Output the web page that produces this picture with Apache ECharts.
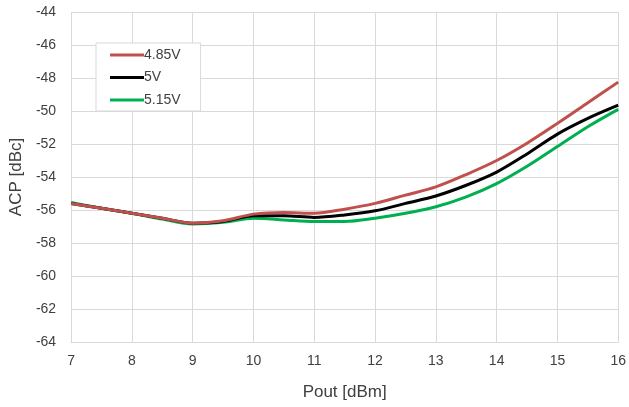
<!DOCTYPE html>
<html><head><meta charset="utf-8">
<script src="https://cdn.jsdelivr.net/npm/echarts@6/dist/echarts.min.js"></script>
<style>html,body{margin:0;padding:0;background:#fff}#c{width:629px;height:407px}</style>
</head><body><div id="c"></div>
<script>
const pout = [7, 7.5, 8, 8.5, 9, 9.5, 10, 10.5, 11, 11.5, 12, 12.5, 13, 13.5, 14, 14.5, 15, 15.5, 16];
const v485 = [-55.6, -55.9, -56.2, -56.5, -56.8, -56.65, -56.25, -56.15, -56.2, -55.95, -55.6, -55.1, -54.6, -53.85, -53.0, -51.95, -50.75, -49.5, -48.25];
const v5 = [-55.6, -55.9, -56.2, -56.5, -56.8, -56.7, -56.35, -56.35, -56.45, -56.3, -56.05, -55.6, -55.15, -54.5, -53.7, -52.6, -51.4, -50.45, -49.65];
const v515 = [-55.55, -55.9, -56.2, -56.55, -56.85, -56.75, -56.5, -56.6, -56.7, -56.7, -56.5, -56.2, -55.8, -55.2, -54.4, -53.35, -52.15, -50.95, -49.9];
const seriesNames = ['4.85V', '5V', '5.15V'];
const colors = ['#C0504D', '#000000', '#00B050'];
const font = "'Liberation Sans', Arial, sans-serif";
const chart = echarts.init(document.getElementById('c'));
const mk = (arr) => arr.map((v, i) => [pout[i], v]);
const allData = [v485, v5, v515];
chart.setOption({
  animation: false,
  grid: {left: 71, right: 6, top: 12, bottom: 65},
  legend: {
    orient: 'vertical', left: 96, top: 43,
    width: 105,
    padding: [5, 20, 4, 14],
    borderColor: '#d9d9d9', borderWidth: 1, backgroundColor: '#fff',
    itemWidth: 34, itemHeight: 3, itemGap: 8.5,
    icon: 'rect',
    textStyle: {fontFamily: font, fontSize: 14, color: '#404040', padding: [0, 0, 0, -5]},
    data: seriesNames
  },
  xAxis: {
    type: 'value', min: 7, max: 16, interval: 1,
    name: 'Pout [dBm]', nameLocation: 'middle', nameGap: 42,
    nameTextStyle: {fontFamily: font, fontSize: 17, color: '#404040'},
    axisLine: {lineStyle: {color: '#d9d9d9'}},
    axisTick: {show: false},
    axisLabel: {fontFamily: font, fontSize: 14, color: '#404040', margin: 12},
    splitLine: {show: true, lineStyle: {color: '#d9d9d9'}}
  },
  yAxis: {
    type: 'value', min: -64, max: -44, interval: 2,
    name: 'ACP [dBc]', nameLocation: 'middle', nameGap: 38,
    nameTextStyle: {fontFamily: font, fontSize: 17, color: '#404040'},
    axisLine: {show: false}, axisTick: {show: false},
    axisLabel: {fontFamily: font, fontSize: 14, color: '#404040', margin: 15},
    splitLine: {show: true, lineStyle: {color: '#d9d9d9'}}
  },
  series: seriesNames.map((n, i) => ({
    name: n, type: 'line', smooth: 0.3, symbol: 'none',
    data: mk(allData[i]),
    lineStyle: {color: colors[i], width: 3},
    itemStyle: {color: colors[i]},
    z: 3 - i
  }))
});
</script></body></html>
